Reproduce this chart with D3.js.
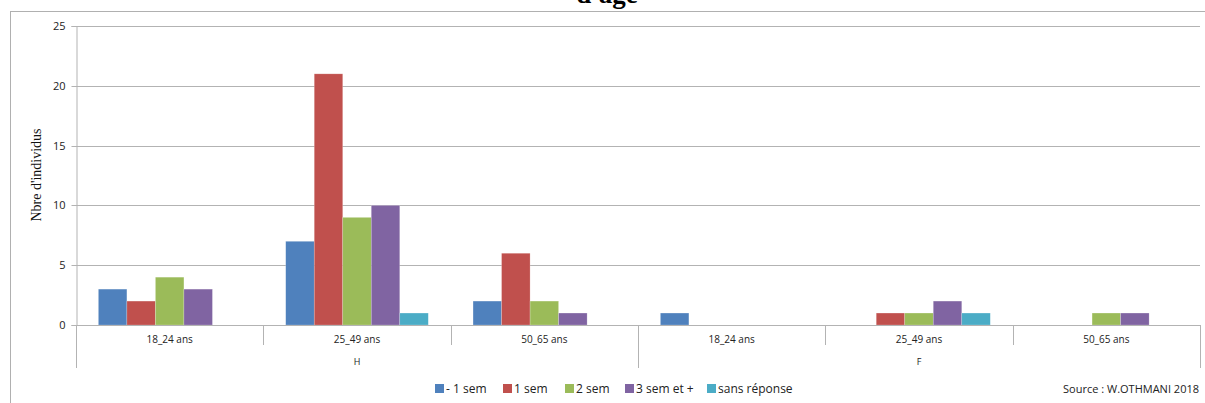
<!DOCTYPE html>
<html><head><meta charset="utf-8">
<script src="https://cdn.jsdelivr.net/npm/d3@7"></script>
<style>body{margin:0;background:#fff}svg{display:block}</style>
</head><body>
<script>
const groups = ["H", "F"];
const ages = ["18_24 ans", "25_49 ans", "50_65 ans"];
const seriesNames = ["- 1 sem", "1 sem", "2 sem", "3 sem et +", "sans réponse"];
const colors = ["#4F81BD", "#C0504D", "#9BBB59", "#8064A2", "#4BACC6"];
// values per category (H 18_24, H 25_49, H 50_65, F 18_24, F 25_49, F 50_65)
const moins1sem = [3, 7, 2, 1, 0, 0];
const sem1 = [2, 21, 6, 0, 1, 0];
const sem2 = [4, 9, 2, 0, 1, 1];
const sem3plus = [3, 10, 1, 0, 2, 1];
const sansReponse = [0, 1, 0, 0, 1, 0];
const yTicks = [0, 5, 10, 15, 20, 25];

const seriesVals = [moins1sem, sem1, sem2, sem3plus, sansReponse];
const cats = [];
groups.forEach(g => ages.forEach(a => cats.push({g, a, key: g + "|" + a})));

const W = 1205, H = 403;
const svg = d3.select("body").append("svg").attr("width", W).attr("height", H);

// outer border
svg.append("rect").attr("x", 10.5).attr("y", 11.5).attr("width", 1205).attr("height", 420)
  .attr("fill", "none").attr("stroke", "#b0b0b0").attr("stroke-width", 1);

// title (partially cut, as in the reference)
svg.append("text").attr("x", 607).attr("y", 3).attr("text-anchor", "middle")
  .attr("font-family", "Liberation Serif, Times New Roman, serif").attr("font-weight", "bold")
  .attr("font-size", 27).text("d'age");

const pLeft = 76, pRight = 1200, pTop = 26, pBottom = 325;
const y = d3.scaleLinear().domain([0, 25]).range([pBottom, pTop]);
const x0 = d3.scaleBand().domain(cats.map(c => c.key)).range([pLeft, pRight]).paddingInner(0).paddingOuter(0);
const bw = x0.bandwidth();
const x1 = d3.scaleBand().domain(d3.range(seriesNames.length)).range([0, bw]).paddingInner(0).paddingOuter(0.785);
// gridlines
svg.append("g").selectAll("line").data(yTicks).join("line")
  .attr("x1", pLeft).attr("x2", pRight).attr("y1", d => Math.round(y(d)) + 0.5).attr("y2", d => Math.round(y(d)) + 0.5)
  .attr("stroke", "#b3b3b3").attr("stroke-width", 1);

// y axis
const yAxis = svg.append("g").attr("transform", `translate(${pLeft + 0.5},0)`)
  .call(d3.axisLeft(y).tickValues(yTicks).tickSize(5).tickPadding(6));
yAxis.select(".domain").attr("stroke", "#b3b3b3");
yAxis.selectAll(".tick line").attr("stroke", "#b3b3b3");
yAxis.selectAll(".tick text").attr("font-family", "Open Sans, sans-serif").attr("font-size", 11).attr("fill", "#222");
yAxis.selectAll(".tick").attr("transform", d => `translate(0,${Math.round(y(d)) + 0.5})`);

// y label
svg.append("text").attr("transform", `translate(41,${175}) rotate(-90)`).attr("text-anchor", "middle")
  .attr("font-family", "Liberation Serif, Times New Roman, serif").attr("font-size", 14).attr("fill", "#111")
  .text("Nbre d'individus");

// bars
seriesVals.forEach((vals, si) => {
  svg.append("g").selectAll("rect").data(vals.map((v, i) => ({v, c: cats[i]}))).join("rect")
    .attr("x", d => x0(d.c.key) + x1(si))
    .attr("width", x1.bandwidth())
    .attr("y", d => y(d.v))
    .attr("height", d => pBottom - y(d.v))
    .attr("fill", colors[si])
    .attr("stroke", d => d.v > 0 ? "#ffffff" : "none").attr("stroke-opacity", 0.35).attr("stroke-width", 0.6);
});

// x axis baseline
svg.append("line").attr("x1", pLeft).attr("x2", pRight).attr("y1", pBottom + 0.5).attr("y2", pBottom + 0.5)
  .attr("stroke", "#b3b3b3");

// category ticks
const tickXs = cats.map(c => x0(c.key)).concat([pRight]);
svg.append("g").selectAll("line").data(tickXs).join("line")
  .attr("x1", d => Math.round(d) + 0.5).attr("x2", d => Math.round(d) + 0.5)
  .attr("y1", pBottom).attr("y2", (d, i) => (i % 3 === 0) ? 368 : 345)
  .attr("stroke", "#b3b3b3");

// age labels
svg.append("g").selectAll("text").data(cats).join("text")
  .attr("x", c => x0(c.key) + bw / 2).attr("y", 343).attr("text-anchor", "middle")
  .attr("font-family", "Open Sans, sans-serif").attr("font-size", 10).attr("fill", "#222")
  .text(c => c.a);

// group labels
const gScale = d3.scaleBand().domain(groups).range([pLeft, pRight]);
svg.append("g").selectAll("text").data(groups).join("text")
  .attr("x", g => gScale(g) + gScale.bandwidth() / 2).attr("y", 365).attr("text-anchor", "middle")
  .attr("font-family", "Open Sans, sans-serif").attr("font-size", 9).attr("fill", "#222")
  .text(g => g);

// legend
const legX = [435, 503, 565, 625, 707];
const leg = svg.append("g");
seriesNames.forEach((n, i) => {
  leg.append("rect").attr("x", legX[i]).attr("y", 384).attr("width", 9).attr("height", 9).attr("fill", colors[i]);
  leg.append("text").attr("x", legX[i] + 11).attr("y", 392.5)
    .attr("font-family", "Open Sans, sans-serif").attr("font-size", 12).attr("fill", "#222").text(n);
});

// source
svg.append("text").attr("x", 1199).attr("y", 393).attr("text-anchor", "end")
  .attr("font-family", "Open Sans, sans-serif").attr("font-size", 11).attr("fill", "#222")
  .text("Source : W.OTHMANI 2018");
</script>
</body></html>
